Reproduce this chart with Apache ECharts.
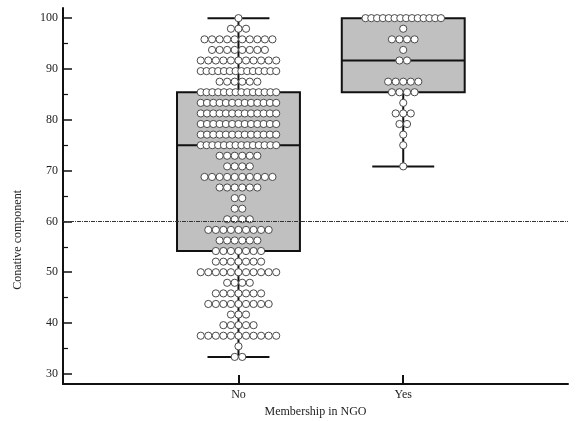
<!DOCTYPE html>
<html>
<head>
<meta charset="utf-8">
<script src="https://cdn.jsdelivr.net/npm/echarts@6/dist/echarts.min.js"></script>
<style>html,body{margin:0;padding:0;background:#fff}#c{width:579px;height:421px}</style>
</head>
<body>
<div id="c"></div>
<script>
// ---- data ----
const categories = ['No', 'Yes'];
const levels = [100, 97.92, 95.83, 93.75, 91.67, 89.58, 87.5, 85.42, 83.33, 81.25, 79.17, 77.08, 75, 72.92, 70.83, 68.75, 66.67, 64.58, 62.5, 60.42, 58.33, 56.25, 54.17, 52.08, 50, 47.92, 45.83, 43.75, 41.67, 39.58, 37.5, 35.42, 33.33];
const countsNo  = [1, 3, 10, 8, 11, 14, 6, 14, 13, 13, 13, 13, 14, 6, 4, 10, 6, 2, 2, 4, 9, 6, 7, 7, 11, 4, 7, 9, 3, 5, 11, 1, 2];
const countsYes = [14, 1, 4, 1, 2, 0, 5, 4, 1, 3, 2, 1, 1, 0, 1, 0, 0, 0, 0, 0, 0, 0, 0, 0, 0, 0, 0, 0, 0, 0, 0, 0, 0];
// [min, q1, median, q3, max]
const boxNo  = [33.33, 54.17, 75, 85.42, 100];
const boxYes = [70.83, 85.42, 91.67, 100, 100];
const refValue = 60;
const yTickLabels = [30, 40, 50, 60, 70, 80, 90, 100];
const yMinorTicks = [35, 45, 55, 65, 75, 85, 95];
const xTitle = 'Membership in NGO';
const yTitle = 'Conative component';

// ---- layout constants ----
const BOX_HALF = 0.373, CAP_HALF = 0.188, DOT_STEP = 0.0458, DOT_SPAN = 0.458;
const FONT = '"Liberation Serif", "DejaVu Serif", serif';

const boxData = [[1].concat(boxNo), [2].concat(boxYes)];
function dots(counts, cx) {
  const out = [];
  counts.forEach((n, i) => {
    if (!n) return;
    const step = n > 1 ? Math.min(DOT_STEP, DOT_SPAN / (n - 1)) : 0;
    for (let k = 0; k < n; k++) out.push([cx + (k - (n - 1) / 2) * step, levels[i]]);
  });
  return out;
}
const dotData = dots(countsNo, 1).concat(dots(countsYes, 2));

function renderBox(params, api) {
  const x = api.value(0);
  const pMin = api.coord([x, api.value(1)]);
  const pQ1 = api.coord([x, api.value(2)]);
  const pMed = api.coord([x, api.value(3)]);
  const pQ3 = api.coord([x, api.value(4)]);
  const pMax = api.coord([x, api.value(5)]);
  const half = api.size([BOX_HALF, 0])[0];
  const cap = api.size([CAP_HALF, 0])[0];
  const ls = { stroke: '#111', lineWidth: 2 };
  return {
    type: 'group',
    children: [
      { type: 'line', shape: { x1: pMax[0], y1: pMax[1], x2: pQ3[0], y2: pQ3[1] }, style: ls },
      { type: 'line', shape: { x1: pQ1[0], y1: pQ1[1], x2: pMin[0], y2: pMin[1] }, style: ls },
      { type: 'line', shape: { x1: pMax[0] - cap, y1: pMax[1], x2: pMax[0] + cap, y2: pMax[1] }, style: ls },
      { type: 'line', shape: { x1: pMin[0] - cap, y1: pMin[1], x2: pMin[0] + cap, y2: pMin[1] }, style: ls },
      { type: 'rect', shape: { x: pQ3[0] - half, y: pQ3[1], width: 2 * half, height: pQ1[1] - pQ3[1] },
        style: { fill: '#c0c0c0', stroke: '#111', lineWidth: 2 } },
      { type: 'line', shape: { x1: pMed[0] - half, y1: pMed[1], x2: pMed[0] + half, y2: pMed[1] }, style: ls }
    ]
  };
}

const chart = echarts.init(document.getElementById('c'), null, { renderer: 'canvas' });
chart.setOption({
  animation: false,
  backgroundColor: '#fff',
  grid: { left: 63, right: 11, top: 8, bottom: 37, containLabel: false, outerBoundsMode: 'none' },
  graphic: [{
    type: 'text', left: 12, top: 190, rotation: Math.PI / 2,
    style: { text: yTitle, fill: '#222', font: '12px ' + FONT, textAlign: 'center', textVerticalAlign: 'middle' },
    x: 18, y: 245, position: [18, 245]
  }],
  xAxis: {
    type: 'value', min: -0.065, max: 3,
    axisLine: { show: true, onZero: false, lineStyle: { color: '#111', width: 2 } },
    axisTick: { show: true, inside: true, length: 9, lineStyle: { color: '#111', width: 2 }, customValues: [1, 2] },
    axisLabel: { customValues: [1, 2], formatter: v => categories[Math.round(v) - 1] || '', color: '#222', fontFamily: FONT, fontSize: 12, margin: 5 },
    splitLine: { show: false },
    name: xTitle, nameLocation: 'middle', nameGap: 22,
    nameTextStyle: { color: '#222', fontFamily: FONT, fontSize: 12 }
  },
  yAxis: [{
    type: 'value', min: 28, max: 102,
    axisLine: { show: true, onZero: false, lineStyle: { color: '#111', width: 2 } },
    axisTick: { show: true, inside: true, length: 9, lineStyle: { color: '#111', width: 1.5 }, customValues: yTickLabels },
    axisLabel: { customValues: yTickLabels, color: '#222', fontFamily: FONT, fontSize: 12, margin: 5 },
    splitLine: { show: false }
  }, {
    type: 'value', min: 28, max: 102, position: 'left', offset: 0,
    axisLine: { show: false, onZero: false },
    axisTick: { show: true, inside: true, length: 5, lineStyle: { color: '#111', width: 1.2 }, customValues: yMinorTicks },
    axisLabel: { show: false },
    splitLine: { show: false }
  }],
  series: [
    {
      type: 'line', data: [], z: 1, silent: true,
      markLine: {
        silent: true, symbol: 'none', animation: false,
        label: { show: false },
        lineStyle: { color: '#333', width: 1, type: [4, 1, 1, 1] },
        data: [{ yAxis: refValue }]
      }
    },
    { type: 'custom', data: boxData, renderItem: renderBox, z: 2, silent: true, encode: { x: 0, y: [1, 2, 3, 4, 5] } },
    {
      type: 'scatter', data: dotData, z: 3, symbol: 'circle', symbolSize: 7.2, silent: true,
      itemStyle: { color: '#fff', borderColor: '#4a4a4a', borderWidth: 1, opacity: 1 }
    }
  ]
});
</script>
</body>
</html>
